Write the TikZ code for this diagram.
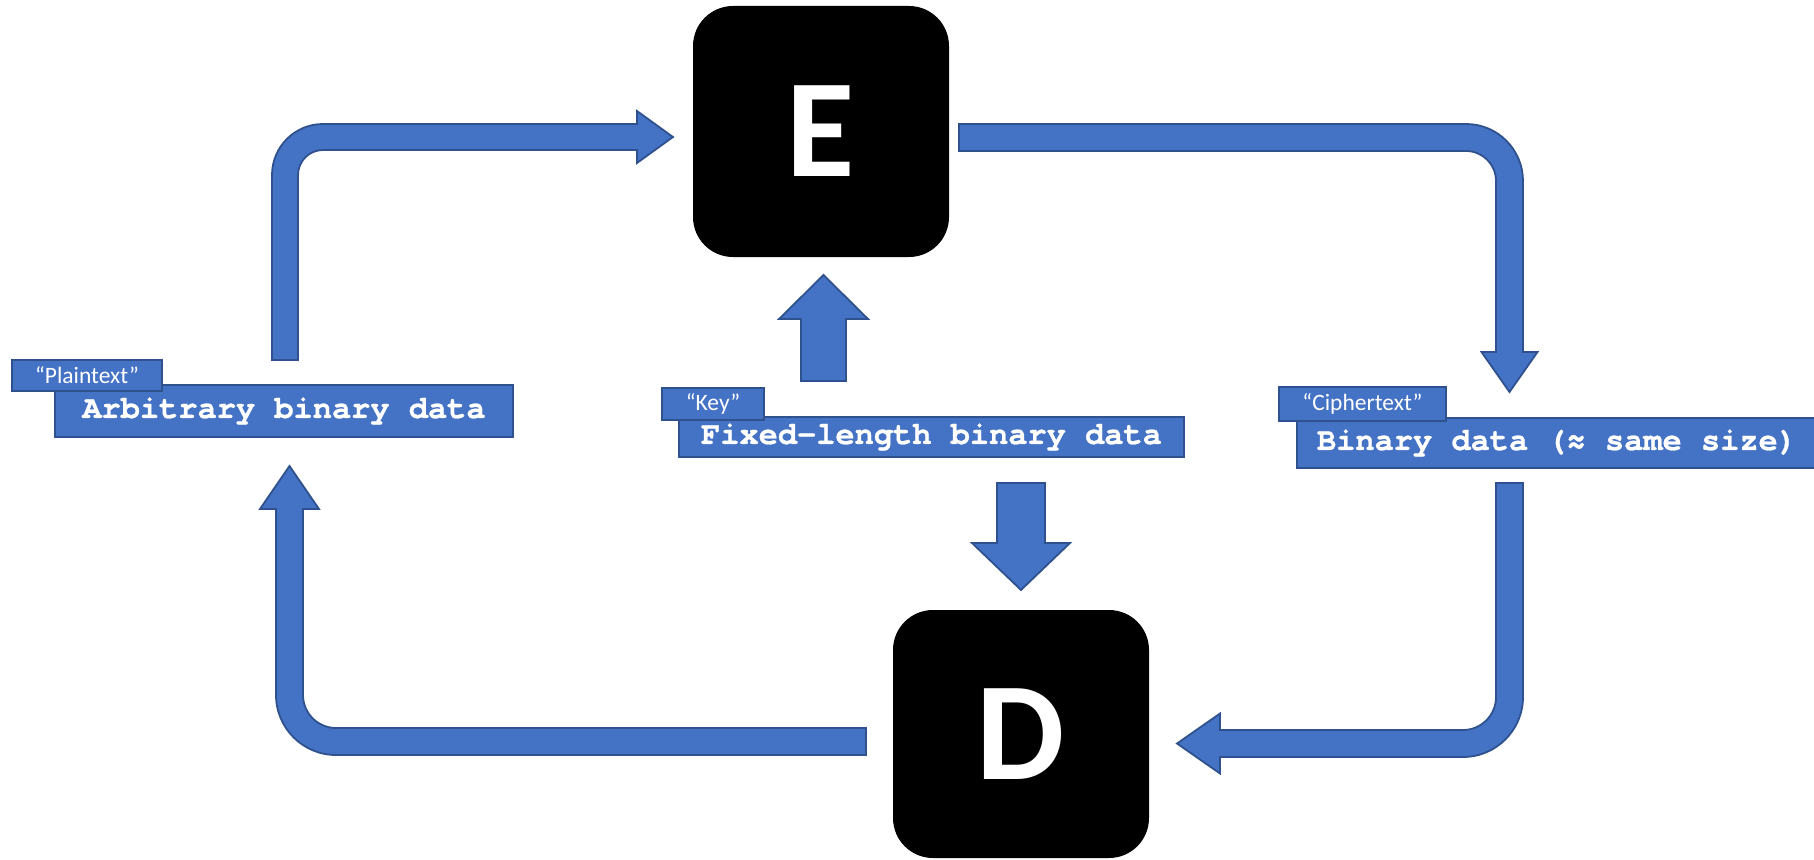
\documentclass[tikz,border=0pt]{standalone}
\usepackage{fontspec}
\setmainfont{Carlito}
\newfontfamily\codefont{TeX Gyre Cursor}[BoldFeatures={FakeBold=0.8}]
\definecolor{arrowblue}{HTML}{4472C4}
\definecolor{edgeblue}{HTML}{2F528F}

\begin{document}
\begin{tikzpicture}[x=1pt,y=-1pt,
  blockarrow/.style={fill=arrowblue, draw=edgeblue, line width=1.8pt, line join=miter},
  databox/.style={fill=arrowblue, draw=edgeblue, line width=1.8pt, inner sep=0pt,
    text=white, font=\codefont\bfseries\fontsize{32}{36}\selectfont},
  tagbox/.style={fill=arrowblue, draw=edgeblue, line width=1.8pt, inner sep=0pt,
    text=white, font=\fontsize{23.5}{28}\selectfont},
  cipherbox/.style={fill=black, rounded corners=40pt, inner sep=0pt, text=white,
    font=\bfseries\fontsize{140}{150}\selectfont},
]
\useasboundingbox (0,0) rectangle (1814,859);
\fill[white] (0,0) rectangle (1814,859);

% encryption and decryption boxes
\node[cipherbox, minimum width=256pt, minimum height=251pt] (E) at (821,131.5) {E};
\node[cipherbox, minimum width=256pt, minimum height=248pt] (D) at (1021,734) {D};

% data boxes with their tags
\node[databox, minimum width=458pt, minimum height=52pt] (plain) at (284,411) {Arbitrary binary data};
\node[tagbox, minimum width=150pt, minimum height=31pt] (plaintag) at (87,375.5) {“Plaintext”};

\node[databox, minimum width=505pt, minimum height=40pt] (key) at (931.5,437) {Fixed-length binary data};
\node[tagbox, minimum width=102pt, minimum height=32pt] (keytag) at (713,404) {“Key”};

\node[databox, minimum width=520pt, minimum height=50pt] (cipher) at (1557,443) {Binary data (≈ same size)};
\node[tagbox, minimum width=167pt, minimum height=34pt] (ciphertag) at (1362.5,404) {“Ciphertext”};

% plaintext -> E
\draw[blockarrow] (272,360) -- (272,175)
  .. controls (272,146.8) and (294.8,124) .. (323,124)
  -- (637,124) -- (637,111) -- (673,137) -- (637,163) -- (637,150) -- (323,150)
  .. controls (309.2,150) and (298,161.2) .. (298,175)
  -- (298,360) -- cycle;

% E -> ciphertext
\draw[blockarrow] (959,124) -- (1466,124)
  .. controls (1497.5,124) and (1523,149.5) .. (1523,181)
  -- (1523,352) -- (1537.5,352) -- (1509.5,392) -- (1481.5,352) -- (1496,352) -- (1496,181)
  .. controls (1496,164.4) and (1482.6,151) .. (1466,151)
  -- (959,151) -- cycle;

% ciphertext -> D
\draw[blockarrow] (1496,483) -- (1523,483) -- (1523,697)
  .. controls (1523,730.1) and (1496.1,757) .. (1463,757)
  -- (1220,757) -- (1220,773.5) -- (1177,743.5) -- (1220,713.5) -- (1220,730) -- (1463,730)
  .. controls (1481.2,730) and (1496,715.2) .. (1496,697)
  -- cycle;

% D -> plaintext
\draw[blockarrow] (866,728) -- (866,755) -- (336,755)
  .. controls (302.9,755) and (276,728.1) .. (276,695)
  -- (276,509) -- (260,509) -- (289.5,466) -- (319,509) -- (303,509) -- (303,695)
  .. controls (303,713.2) and (317.8,728) .. (336,728)
  -- cycle;

% key -> E
\draw[blockarrow] (801,381) -- (801,319) -- (779,319) -- (823.5,275) -- (868,319)
  -- (846,319) -- (846,381) -- cycle;

% key -> D
\draw[blockarrow] (997,483) -- (1045,483) -- (1045,543) -- (1070,543) -- (1021,590)
  -- (972,543) -- (997,543) -- cycle;
\end{tikzpicture}
\end{document}
